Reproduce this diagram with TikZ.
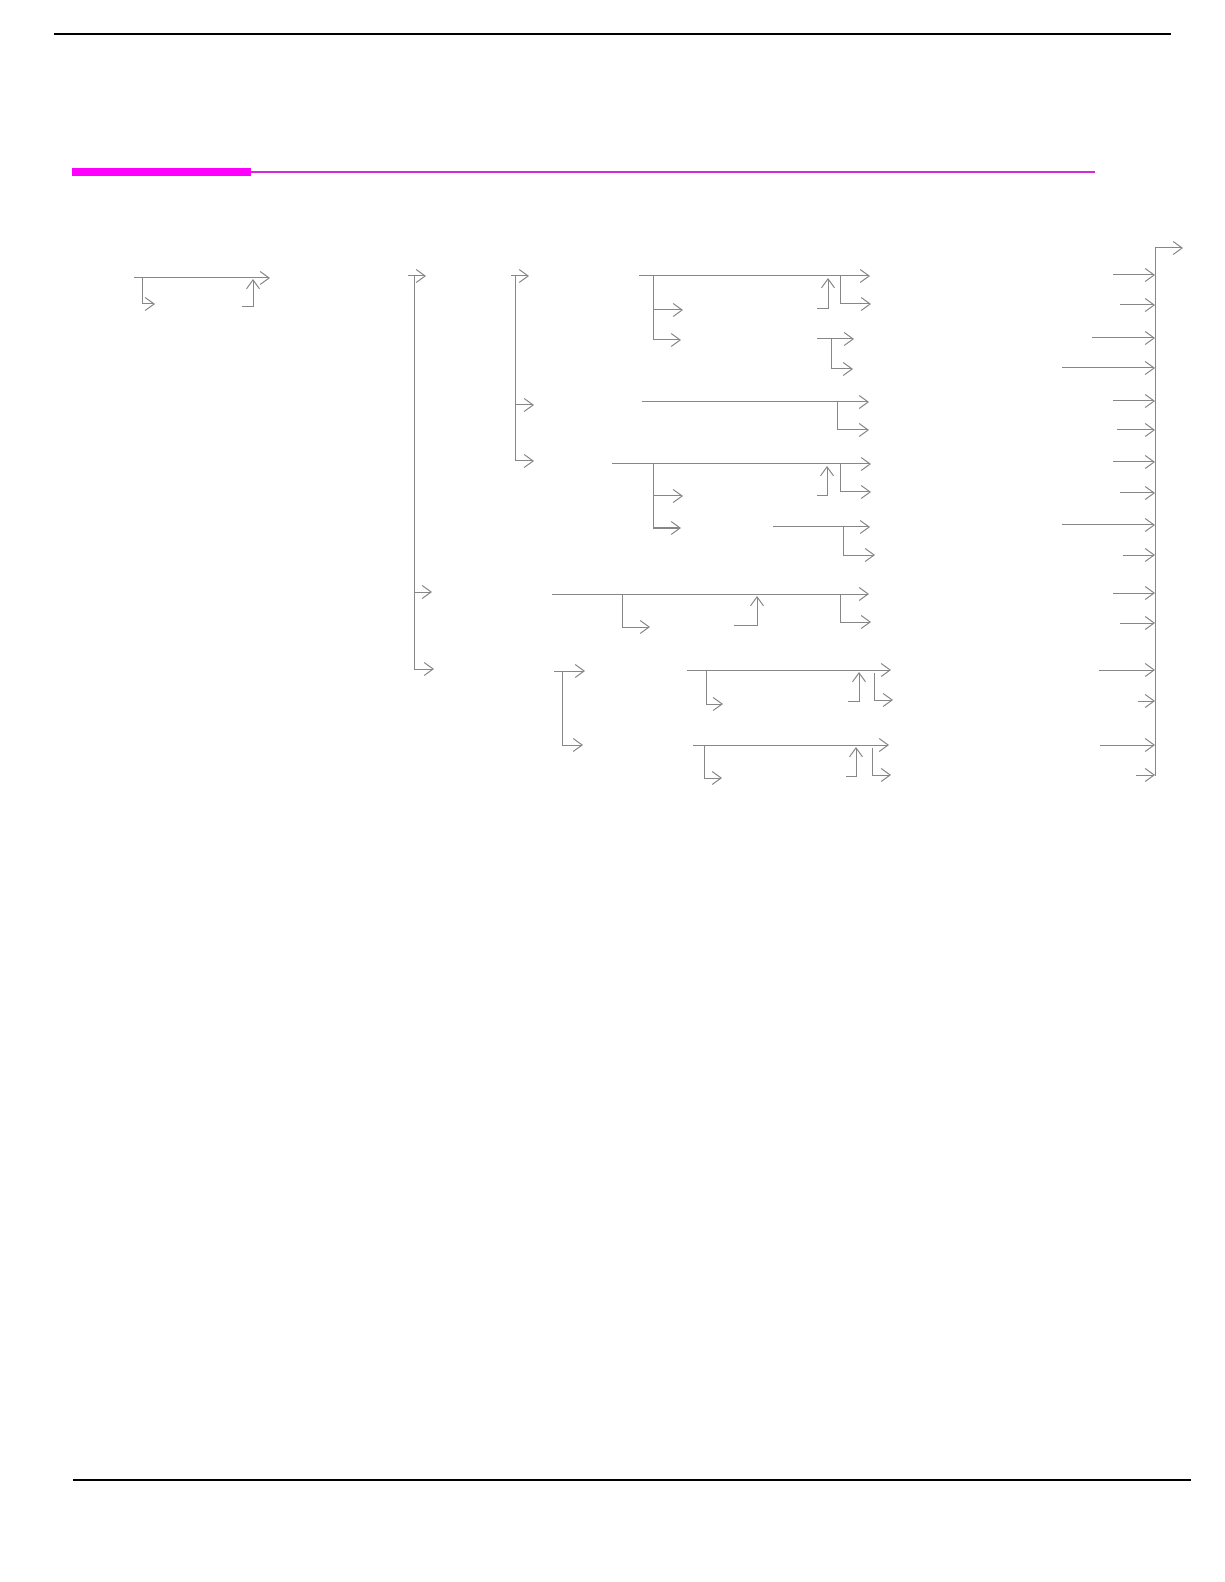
\documentclass[tikz,border=0pt]{standalone}
\usetikzlibrary{arrows.meta}
\definecolor{ln}{RGB}{135,135,135}
\definecolor{mag}{RGB}{255,0,255}
\definecolor{magthin}{RGB}{215,40,215}
\begin{document}
\begin{tikzpicture}[x=0.5pt,y=-0.5pt,
  wire/.style={draw=ln,line width=0.5pt},
  arr/.style={wire,-{Straight Barb[length=4.5pt,width=6.5pt]}},
  rulel/.style={draw=black,line width=0.9pt}]
\useasboundingbox (0,0) rectangle (1224,1582);
% page rules
\draw[rulel] (54,34) -- (1171,34);
\fill[mag] (72,168) rectangle (251,176);
\draw[magthin,line width=1.2pt] (251,172) -- (1095,172);
\draw[rulel] (73,1480) -- (1191,1480);

% group A
\draw[arr] (134,278) -- (270,278);
\draw[arr] (142,278) |- (155,304);
\draw[arr] (242,307) -| (253,279);

% group B
\draw[arr] (408,276) -- (426,276);
\draw[wire] (414,276) -- (414,669);
\draw[arr] (414,592) -- (432,592);
\draw[arr] (414,669) -- (434,669);

% group C
\draw[arr] (511,276) -- (529,276);
\draw[wire] (515,276) -- (515,461);
\draw[arr] (515,405) -- (534,405);
\draw[arr] (515,461) -- (534,461);

% group D1
\draw[arr] (639,276) -- (870,276);
\draw[wire] (653,276) -- (653,340);
\draw[arr] (653,310) -- (683,310);
\draw[arr] (653,340) -- (681,340);
\draw[arr] (817,309) -| (828,278);
\draw[arr] (840,276) |- (871,304);
\draw[arr] (817,339) -- (854,339);
\draw[arr] (831,339) |- (853,369);

% group D2
\draw[arr] (642,402) -- (869,402);
\draw[arr] (837,402) |- (869,430);

% group D3
\draw[arr] (612,464) -- (871,464);
\draw[wire] (653,464) -- (653,528);
\draw[arr] (653,496) -- (683,496);
\draw[arr] (653,528) -- (681,528);
\draw[arr] (817,496) -| (827,466);
\draw[arr] (840,464) |- (871,492);
\draw[arr] (773,527) -- (870,527);
\draw[arr] (843,527) |- (875,555);

% group E
\draw[arr] (552,594) -- (869,594);
\draw[arr] (622,594) |- (650,627);
\draw[arr] (734,625) -| (757,596);
\draw[arr] (840,594) |- (871,622);

% group F
\draw[arr] (554,671) -- (585,671);
\draw[wire] (562,671) -- (562,745);
\draw[arr] (562,745) -- (583,745);

% group G1
\draw[arr] (687,670) -- (891,670);
\draw[arr] (706,670) |- (723,704);
\draw[arr] (848,701) -| (859,672);
\draw[arr] (874,673) |- (893,700);

% group G2
\draw[arr] (693,745) -- (889,745);
\draw[arr] (704,745) |- (722,778);
\draw[arr] (846,776) -| (856,747);
\draw[arr] (872,748) |- (891,775);

% right bus
\draw[wire] (1155,248) -- (1155,776);
\draw[arr] (1155,248) -- (1183,248);
\foreach \y/\x in {275/1113,305/1120,338/1092,368/1062,401/1113,430/1117,462/1113,493/1120,525/1062,555/1123,593/1113,623/1120,670/1099,701/1138,745/1100,775/1136}
  \draw[arr] (\x,\y) -- (1155,\y);
\end{tikzpicture}
\end{document}
